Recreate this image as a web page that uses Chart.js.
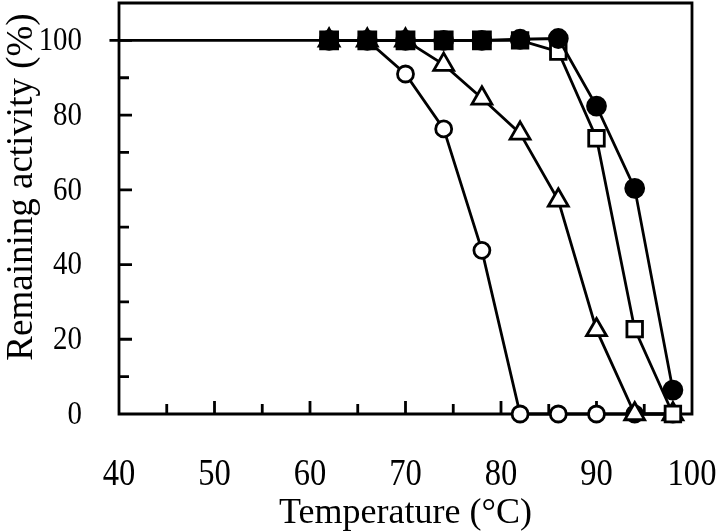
<!DOCTYPE html>
<html>
<head>
<meta charset="utf-8">
<script src="https://cdn.jsdelivr.net/npm/chart.js@4.4.1/dist/chart.umd.min.js"></script>
<style>
html,body{margin:0;padding:0;background:#fff;}
#wrap{width:720px;height:532px;position:relative;}
</style>
</head>
<body>
<div id="wrap"><canvas id="c"></canvas></div>
<script>
// ---- data ----
const temps = [62, 66, 70, 74, 78, 82, 86, 90, 94, 98];
const openCircle   = [100, 100, 91, 76.3, 43.8, 0, 0, 0, 0, 0];
const openTriangle = [100, 100, 100, 93.5, 84.5, 75.1, 57.2, 22.5, 0, 0];
const openSquare   = [100, 100, 100, 100, 100, 100, 97, 73.8, 22.7, 0];
const filledCircle = [100, 100, 100, 100, 100, 100.3, 100.5, 82.4, 60.4, 6.4];
const filledSquareTemps = [62, 66, 70, 74, 78];
const filledSquare = [100, 100, 100, 100, 100];
const controlLineX = [39, 62];
const controlLineY = [100, 100];
const xTickValues = [40, 50, 60, 70, 80, 90, 100];
const xTickLabels = ['40', '50', '60', '70', '80', '90', '100'];
const xMinorValues = [45, 55, 65, 75, 85, 95];
const yTickValues = [0, 20, 40, 60, 80, 100];
const yTickLabels = ['0', '20', '40', '60', '80', '100'];
const yMinorValues = [10, 30, 50, 70, 90];
const xTitle = 'Temperature (°C)';
const yTitle = 'Remaining activity (%)';

const pts = (xs, ys) => xs.map((x, i) => ({x: x, y: ys[i]}));
const LW = 2.8;
function ds(label, xs, ys, style, radius, fill, order) {
  return {
    label: label, data: pts(xs, ys), showLine: true,
    borderColor: '#000', borderWidth: LW,
    pointStyle: style, pointRadius: radius, pointHoverRadius: radius,
    pointBackgroundColor: fill, pointBorderColor: '#000', pointBorderWidth: LW,
    clip: false, order: order
  };
}

const FONT = "'Liberation Serif', 'Times New Roman', serif";

function text(ctx, s, x, y, size, sx, align, baseline, rot) {
  ctx.save();
  ctx.translate(x, y);
  if (rot) ctx.rotate(rot);
  ctx.scale(sx, 1);
  ctx.font = size + 'px ' + FONT;
  ctx.textAlign = align;
  ctx.textBaseline = baseline;
  ctx.fillText(s, 0, 0);
  ctx.restore();
}

const frameTicks = {
  id: 'frameTicks',
  beforeDatasetsDraw(chart) {
    const ctx = chart.ctx, a = chart.chartArea;
    const xs = chart.scales.x, ys = chart.scales.y;
    ctx.save();
    ctx.strokeStyle = '#000';
    ctx.lineWidth = LW;
    ctx.beginPath();
    ctx.moveTo(a.left, a.top); ctx.lineTo(a.right, a.top); ctx.lineTo(a.right, a.bottom);
    ctx.lineTo(a.left, a.bottom); ctx.closePath();
    const MJ = 13, MN = 10;
    xTickValues.forEach(v => { const p = xs.getPixelForValue(v); ctx.moveTo(p, a.bottom); ctx.lineTo(p, a.bottom - MJ); });
    xMinorValues.forEach(v => { const p = xs.getPixelForValue(v); ctx.moveTo(p, a.bottom); ctx.lineTo(p, a.bottom - MN); });
    yTickValues.forEach(v => { const p = ys.getPixelForValue(v); ctx.moveTo(a.left, p); ctx.lineTo(a.left + MJ, p); });
    yMinorValues.forEach(v => { const p = ys.getPixelForValue(v); ctx.moveTo(a.left, p); ctx.lineTo(a.left + MN, p); });
    ctx.stroke();
    ctx.fillStyle = '#000';
    xTickValues.forEach((v, i) => text(ctx, xTickLabels[i], xs.getPixelForValue(v), 485, 37, 0.88, 'center', 'alphabetic'));
    yTickValues.forEach((v, i) => text(ctx, yTickLabels[i], 82, ys.getPixelForValue(v) + 1, 34, 0.85, 'right', 'middle'));
    text(ctx, xTitle, (a.left + a.right) / 2, 523, 36, 1, 'center', 'alphabetic');
    text(ctx, yTitle, 32, 187, 37, 1, 'center', 'alphabetic', -Math.PI / 2);
    ctx.restore();
  }
};

new Chart(document.getElementById('c'), {
  type: 'scatter',
  data: {
    datasets: [
      ds('control', controlLineX, controlLineY, false, 0, '#000', 6),
      ds('open circle', temps, openCircle, 'circle', 8, '#fff', 5),
      ds('open triangle', temps, openTriangle, 'triangle', 11.5, '#fff', 4),
      ds('open square', temps, openSquare, 'rect', 11, '#fff', 3),
      ds('filled circle', temps, filledCircle, 'circle', 9, '#000', 2),
      ds('filled square', filledSquareTemps, filledSquare, 'rect', 12, '#000', 1)
    ]
  },
  options: {
    responsive: true, maintainAspectRatio: false, animation: false,
    devicePixelRatio: 1,
    layout: {autoPadding: false, padding: {top: 3, right: 28, left: 0, bottom: 0}},
    plugins: {legend: {display: false}, tooltip: {enabled: false}},
    scales: {
      x: {
        type: 'linear', min: 40, max: 100,
        afterFit: s => { s.height = 118; s.paddingLeft = 0; s.paddingRight = 0; },
        grid: {display: false, drawTicks: false},
        border: {display: false},
        ticks: {display: false},
        title: {display: false}
      },
      y: {
        type: 'linear', min: 0, max: 110,
        afterFit: s => { s.width = 119; s.paddingTop = 0; s.paddingBottom = 0; },
        grid: {display: false, drawTicks: false},
        border: {display: false},
        ticks: {display: false},
        title: {display: false}
      }
    }
  },
  plugins: [frameTicks]
});
</script>
</body>
</html>
